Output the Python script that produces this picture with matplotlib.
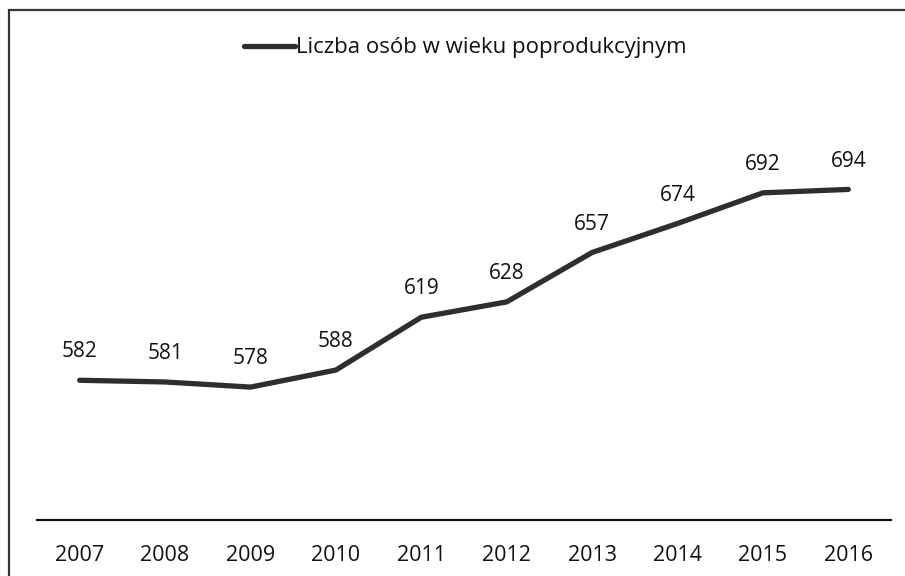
import matplotlib
matplotlib.use("Agg")
import matplotlib.pyplot as plt
from matplotlib.patches import Rectangle

years = ["2007", "2008", "2009", "2010", "2011", "2012", "2013", "2014", "2015", "2016"]
values = [582, 581, 578, 588, 619, 628, 657, 674, 692, 694]
series_name = "Liczba osób w wieku poprodukcyjnym"

plt.rcParams['font.family'] = ['Open Sans', 'DejaVu Sans']

W, H = 905, 576
fig = plt.figure(figsize=(W / 100, H / 100), dpi=100)
fig.patch.set_facecolor('white')

# outer frame (right and bottom edges lie outside the picture)
fig.patches.append(Rectangle((9 / W, -0.05), 1.2, 1 - 10 / H + 0.05,
                             transform=fig.transFigure, fill=False,
                             edgecolor='#333333', linewidth=1.6))

ax = fig.add_axes([37 / W, 1 - 520 / H, (891 - 37) / W, (520 - 94) / H])
x = list(range(len(years)))
line, = ax.plot(x, values, color='#2e2e2e', linewidth=3.8,
                solid_capstyle='round', solid_joinstyle='round', label=series_name)

for xi, v in zip(x, values):
    ax.annotate(str(v), (xi, v), xytext=(0, 16.5), textcoords='offset points',
                ha='center', va='baseline', fontsize=15, color='#111111')

ax.set_xlim(-0.5, len(years) - 0.5)
ax.set_ylim(500, 750)
ax.set_xticks(x)
ax.set_xticklabels(years, fontsize=15.5, color='#111111')
ax.tick_params(axis='x', length=0, pad=18)
ax.set_yticks([])
for s in ['left', 'right', 'top']:
    ax.spines[s].set_visible(False)
ax.spines['bottom'].set_color('#111111')
ax.spines['bottom'].set_linewidth(1.6)
ax.patch.set_alpha(0)

leg = fig.legend(handles=[line], loc='center', bbox_to_anchor=(465 / W, 1 - 48 / H),
                 frameon=False, fontsize=16, handlelength=2.3, handletextpad=0.05,
                 borderpad=0)
for t in leg.get_texts():
    t.set_color('#111111')

fig.savefig("out.png", dpi=100, facecolor='white')
